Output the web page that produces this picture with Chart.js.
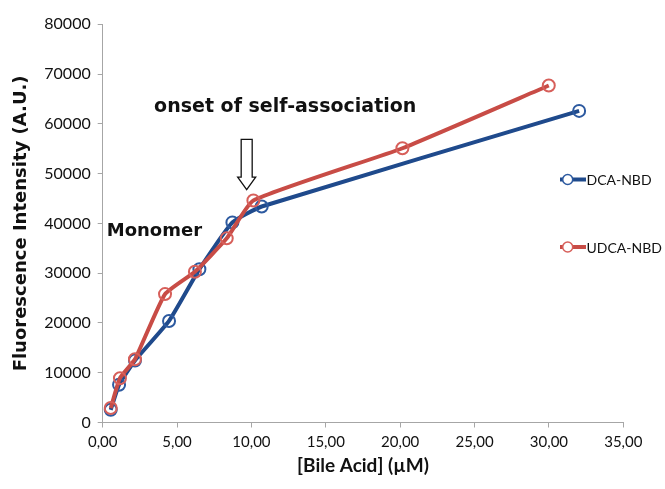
<!DOCTYPE html>
<html lang="en">
<head>
<meta charset="utf-8">
<style>
  html, body { margin: 0; padding: 0; background: #fff; }
  #wrap { width: 665px; height: 489px; }
</style>
</head>
<body>
<div id="wrap"><canvas id="myChart" width="665" height="489"></canvas></div>
<script src="https://cdn.jsdelivr.net/npm/chart.js"></script>
<script>
// values
const dcaConc = [0.54, 1.10, 2.17, 4.46, 6.50, 8.72, 10.69, 32.03];
const dcaIntensity = [2550, 7570, 12450, 20400, 30800, 40200, 43400, 62600];
const udcaConc = [0.54, 1.16, 2.17, 4.19, 6.20, 8.34, 10.13, 20.15, 29.99];
const udcaIntensity = [2900, 8900, 12700, 25800, 30300, 37000, 44600, 55100, 67700];
const seriesNames = ['DCA-NBD', 'UDCA-NBD'];
const xTickValues = [0, 5, 10, 15, 20, 25, 30, 35];
const yTickValues = [0, 10000, 20000, 30000, 40000, 50000, 60000, 70000, 80000];

const blue = 'rgb(31,74,140)';
const red = 'rgb(200,76,70)';
const axisGrey = '#a6a6a6';

function toPoints(xs, ys) {
  return xs.map((x, i) => ({ x: x, y: ys[i] }));
}

// text + arrow drawn in data units so they follow the scales
const notes = {
  onset: { text: 'onset of self-association', x: 12.27, y: 62400 },
  monomer: { text: 'Monomer', x: 0.27, y: 37400 },
  arrow: { x: 9.68, top: 56900, neck: 49300, tip: 46800 }
};

const annotationPlugin = {
  id: 'notes',
  afterDatasetsDraw(chart) {
    const ctx = chart.ctx;
    const xs = chart.scales.x, ys = chart.scales.y;
    ctx.save();
    ctx.fillStyle = '#111';
    ctx.textBaseline = 'alphabetic';
    ctx.font = 'bold 19px "DejaVu Sans"';
    ctx.textAlign = 'center';
    ctx.fillText(notes.onset.text, xs.getPixelForValue(notes.onset.x), ys.getPixelForValue(notes.onset.y));
    ctx.font = 'bold 18px "DejaVu Sans"';
    ctx.textAlign = 'left';
    ctx.fillText(notes.monomer.text, xs.getPixelForValue(notes.monomer.x), ys.getPixelForValue(notes.monomer.y));

    // hollow down arrow
    const ax = xs.getPixelForValue(notes.arrow.x);
    const top = ys.getPixelForValue(notes.arrow.top);
    const neck = ys.getPixelForValue(notes.arrow.neck);
    const tip = ys.getPixelForValue(notes.arrow.tip);
    const sw = 5.5, hw = 9;
    ctx.beginPath();
    ctx.moveTo(ax - sw, top);
    ctx.lineTo(ax + sw, top);
    ctx.lineTo(ax + sw, neck);
    ctx.lineTo(ax + hw, neck);
    ctx.lineTo(ax, tip);
    ctx.lineTo(ax - hw, neck);
    ctx.lineTo(ax - sw, neck);
    ctx.closePath();
    ctx.fillStyle = '#fff';
    ctx.fill();
    ctx.strokeStyle = '#111';
    ctx.lineWidth = 1.3;
    ctx.stroke();
    ctx.restore();
  }
};

// legend drawn by hand so the plot area keeps its full width
const legendSpot = { x: 560, y: [179.5, 247], lineLen: 26, markerX: 567.7 };
const legendPlugin = {
  id: 'sideLegend',
  afterDraw(chart) {
    const ctx = chart.ctx;
    ctx.save();
    chart.data.datasets.forEach((ds, i) => {
      const y = legendSpot.y[i];
      ctx.strokeStyle = ds.borderColor;
      ctx.lineWidth = 4;
      ctx.beginPath();
      ctx.moveTo(legendSpot.x, y);
      ctx.lineTo(legendSpot.x + legendSpot.lineLen, y);
      ctx.stroke();
      ctx.beginPath();
      ctx.arc(legendSpot.markerX, y, 5, 0, Math.PI * 2);
      ctx.fillStyle = '#fff';
      ctx.fill();
      ctx.lineWidth = 1.5;
      ctx.strokeStyle = ds.pointBorderColor;
      ctx.stroke();
      ctx.fillStyle = '#111';
      ctx.font = '14px Lato';
      ctx.textAlign = 'left';
      ctx.textBaseline = 'middle';
      ctx.fillText(ds.label, legendSpot.x + legendSpot.lineLen + 0.5, y + 1);
    });
    ctx.restore();
  }
};

const data = {
  datasets: [
    {
      label: seriesNames[0],
      data: toPoints(dcaConc, dcaIntensity),
      borderColor: blue,
      borderWidth: 4,
      pointRadius: 6,
      pointBorderWidth: 2,
      pointBorderColor: 'rgb(45,90,160)',
      pointBackgroundColor: 'rgba(255,255,255,0)',
      tension: 0.15,
      order: 1
    },
    {
      label: seriesNames[1],
      data: toPoints(udcaConc, udcaIntensity),
      borderColor: red,
      borderWidth: 4,
      pointRadius: 6,
      pointBorderWidth: 2,
      pointBorderColor: 'rgb(215,95,90)',
      pointBackgroundColor: 'rgba(255,255,255,0)',
      tension: 0.15,
      order: 0
    }
  ]
};

const config = {
  type: 'line',
  data: data,
  options: {
    responsive: false,
    animation: false,
    layout: { padding: { left: 0, right: 41.7, top: 24.3, bottom: 0 } },
    plugins: { legend: { display: false }, tooltip: { enabled: false } },
    scales: {
      x: {
        type: 'linear',
        min: 0, max: 35,
        afterBuildTicks: s => { s.ticks = xTickValues.map(v => ({ value: v })); },
        afterFit: s => { s.height = 66.5; },
        grid: { drawOnChartArea: false, tickLength: 5, color: axisGrey },
        border: { color: axisGrey, width: 1 },
        ticks: {
          padding: 6, color: '#111', maxRotation: 0,
          font: { family: 'Lato', size: 15 },
          callback: v => v.toFixed(2).replace('.', ',')
        },
        title: {
          display: true, text: '[Bile Acid] (\u00b5M)', color: '#111',
          font: { family: 'Lato', size: 19, weight: 'bold' },
          padding: { top: 0, bottom: 11.5 }
        }
      },
      y: {
        type: 'linear',
        min: 0, max: 80000,
        afterBuildTicks: s => { s.ticks = yTickValues.map(v => ({ value: v })); },
        afterFit: s => { s.width = 102.7; },
        grid: { drawOnChartArea: false, tickLength: 5, color: axisGrey },
        border: { color: axisGrey, width: 1 },
        ticks: {
          padding: 7, color: '#111',
          font: { family: 'Lato', size: 16 },
          callback: v => String(v)
        },
        title: {
          display: true, text: 'Fluorescence Intensity (A.U.)', color: '#111',
          font: { family: 'DejaVu Sans', size: 18, weight: 'bold' },
          padding: { top: 11, bottom: 0 }
        }
      }
    }
  },
  plugins: [annotationPlugin, legendPlugin]
};

const myChart = new Chart(document.getElementById('myChart'), config);
</script>
</body>
</html>
